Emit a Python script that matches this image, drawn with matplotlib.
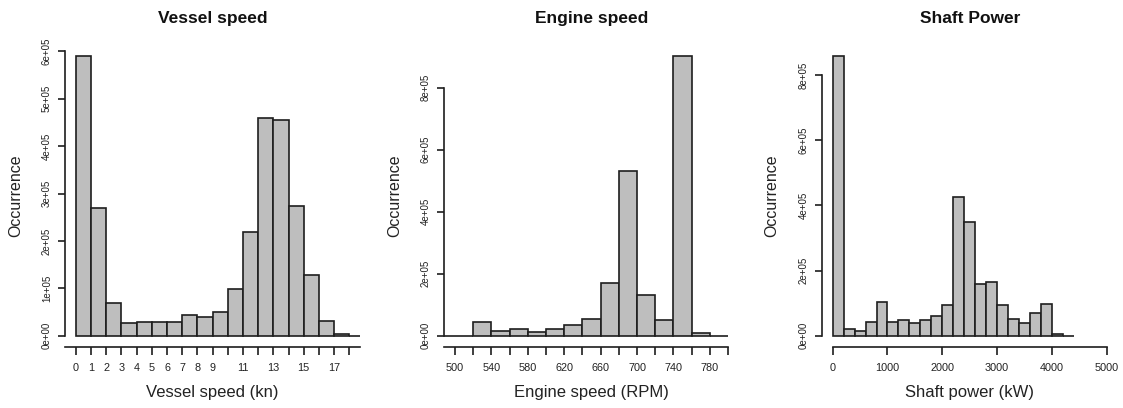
import numpy as np
import matplotlib
matplotlib.use("Agg")
import matplotlib.pyplot as plt

plt.rcParams['font.family'] = ['Liberation Sans', 'DejaVu Sans']

# ---------------- data ----------------
vessel_edges = list(range(0, 20))                       # knots, bins of 1
vessel_counts = [591000, 269000, 69000, 27000, 29000, 29000, 29000, 44000,
                 39000, 51000, 99000, 219000, 459000, 456000, 273000, 129000,
                 32000, 3500, 0]
vessel_ticks = list(range(0, 19))
vessel_ticklabels = ['0', '1', '2', '3', '4', '5', '6', '7', '8', '9', '',
                     '11', '', '13', '', '15', '', '17', '']

engine_edges = list(range(480, 801, 20))                # RPM, bins of 20
engine_counts = [0, 0, 45000, 17000, 23000, 13000, 23000, 35000, 55000,
                 169000, 531000, 132000, 50000, 903000, 8600, 0]
engine_ticks = list(range(500, 801, 20))
engine_ticklabels = ['500', '', '540', '', '580', '', '620', '', '660', '',
                     '700', '', '740', '', '780', '']

shaft_edges = list(range(0, 4401, 200))                 # kW, bins of 200
shaft_counts = [859000, 21000, 16000, 43000, 103000, 43000, 47000, 39000,
                47000, 61000, 95000, 427000, 348000, 160000, 164000, 95000,
                52000, 39000, 69000, 99000, 4000, 0]
shaft_ticks = [0, 1000, 2000, 3000, 4000, 5000]
shaft_ticklabels = ['0', '1000', '2000', '3000', '4000', '5000']

y_ticks_vessel = [0, 100000, 200000, 300000, 400000, 500000, 600000]
y_ticks_other = [0, 200000, 400000, 600000, 800000]

titles = ['Vessel speed', 'Engine speed', 'Shaft Power']
xlabels = ['Vessel speed (kn)', 'Engine speed (RPM)', 'Shaft power (kW)']
ylabel = 'Occurrence'

# ---------------- layout ----------------
W, H = 1123, 408
fig = plt.figure(figsize=(W / 100, H / 100), dpi=100)

panels = [
    dict(edges=vessel_edges, counts=vessel_counts, xt=vessel_ticks,
         xtl=vessel_ticklabels, yt=y_ticks_vessel, xlim=(-0.72, 18.72),
         xspan=(-0.72, 18.72), left=65.0, width=295.2),
    dict(edges=engine_edges, counts=engine_counts, xt=engine_ticks,
         xtl=engine_ticklabels, yt=y_ticks_other, xlim=(488, 812),
         xspan=(488, 800), left=444.0, width=295.0),
    dict(edges=shaft_edges, counts=shaft_counts, xt=shaft_ticks,
         xtl=shaft_ticklabels, yt=y_ticks_other, xlim=(-200, 5200),
         xspan=(0, 5000), left=821.7, width=296.0),
]

ax_top_px, ax_bot_px = 44.5, 347.0
txt = '#222222'

def ysci(v):
    return '%.0e' % v

for i, p in enumerate(panels):
    ax = fig.add_axes([p['left'] / W, (H - ax_bot_px) / H, p['width'] / W,
                       (ax_bot_px - ax_top_px) / H])
    edges = np.array(p['edges'], dtype=float)
    counts = np.array(p['counts'], dtype=float)
    ax.bar(edges[:-1], counts, width=np.diff(edges), align='edge',
           color='#BEBEBE', edgecolor='#1e1e1e', linewidth=1.2)
    ymax = counts.max()
    ax.set_ylim(-0.04 * ymax, 1.04 * ymax)
    ax.set_xlim(*p['xlim'])

    for s in ['top', 'right']:
        ax.spines[s].set_visible(False)
    for s in ['left', 'bottom']:
        ax.spines[s].set_linewidth(1.2)
        ax.spines[s].set_color('#1e1e1e')
    ax.spines['left'].set_bounds(p['yt'][0], p['yt'][-1])
    ax.spines['bottom'].set_bounds(*p['xspan'])

    ax.set_xticks(p['xt'])
    ax.set_xticklabels(p['xtl'])
    ax.set_yticks(p['yt'])
    ax.set_yticklabels([ysci(v) for v in p['yt']])
    ax.tick_params(axis='both', direction='out', length=5.4, width=1.2,
                   color='#1e1e1e', labelcolor=txt)
    ax.tick_params(axis='x', labelsize=7.8, pad=6.0)
    ax.tick_params(axis='y', labelsize=7.0, pad=4.0, labelrotation=90)
    for lab in ax.get_yticklabels():
        lab.set_verticalalignment('center')
    for lab in ax.get_xticklabels() + ax.get_yticklabels():
        lab.set_fontweight('medium')

    # axis labels
    ax.set_ylabel(ylabel, fontsize=11.5, color=txt)
    ax.yaxis.set_label_coords(-42.0 / p['width'], 0.5)
    ax.set_xlabel(xlabels[i], fontsize=12, color=txt)
    ax.xaxis.set_label_coords(0.5, -(385.0 - ax_bot_px) / (ax_bot_px - ax_top_px))

    # title
    fig.text((p['left'] + p['width'] / 2) / W, 1 - 18.5 / H, titles[i],
             ha='center', va='center', fontsize=12.5, fontweight='bold',
             color='#111111')

fig.savefig('out.png', dpi=100)
